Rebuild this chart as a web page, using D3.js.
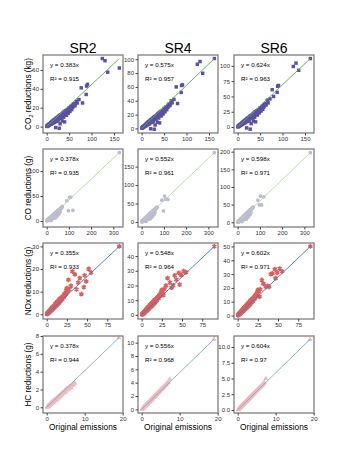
<!DOCTYPE html>
<html>
<head>
<meta charset="utf-8">
<script src="https://cdn.jsdelivr.net/npm/d3@7"></script>
<style>
  body { margin: 0; background: #fff; }
  text { font-family: "Liberation Sans", Arial, sans-serif; }
</style>
</head>
<body>
<div id="chart"></div>
<script>
// column / row labels
const colTitles = ["SR2", "SR4", "SR6"];
const rowNames = ["CO2", "CO", "NOx", "HC"];
const xLabel = "Original emissions";

// fitted slopes and R² printed in each panel [row][col]
const slopes = [["0.383", "0.575", "0.624"], ["0.378", "0.552", "0.598"], ["0.355", "0.548", "0.602"], ["0.378", "0.556", "0.604"]];
const r2s = [["0.915", "0.957", "0.963"], ["0.935", "0.961", "0.971"], ["0.933", "0.964", "0.971"], ["0.944", "0.968", "0.97"]];

// axis limits and ticks
const xLimits = [[-8.1, 170.1], [-16.4, 343.4], [-4.5, 94.5], [-0.97, 20.08]];
const xTicks = [[0, 50, 100, 150], [0, 100, 200, 300], [0, 25, 50, 75], [0, 10, 20]];
const yLimits = [
  [[-6.75, 75.75], [-6.6, 106.1], [-9.8, 117.8]],
  [[-12.1, 144.1], [-13.7, 197.7], [-13.4, 207.5]],
  [[-2.1, 31.5], [-2.8, 48.9], [-2.5, 52.5]],
  [[-0.64, 8.0], [-0.55, 11.0], [-0.48, 11.75]]
];
const yTicks = [
  [[0, 20, 40, 60], [0, 20, 40, 60, 80, 100], [0, 25, 50, 75, 100]],
  [[0, 50, 100], [0, 50, 100, 150], [0, 50, 100, 150, 200]],
  [[0, 10, 20, 30], [0, 10, 20, 30, 40], [0, 10, 20, 30, 40, 50]],
  [[0, 2, 4, 6, 8], [0, 2, 4, 6, 8, 10], [0, 2.5, 5, 7.5, 10]]
];

// CO2 (kg): original emissions, and reductions for SR2 / SR4 / SR6
const co2Orig = [0.5,1,2,3,4,5,6,7,8,9, 10,11,12,13,14,15,16,17,18,19, 20,21,22,23,24,25,26,27,28,29,
  30,31,32,34,35,36,38,39,40,42, 44,46,48,50,52,54,56,58,60,63, 66,72,77,80,88,89,91,124,130,136, 162,
  3.5,6.5,9.5,12.5,15.5,18.5,21.5,24.5,27.5,30.5, 33,37,41,43,45,47,49,51,53,57, 59,61,64,68];
const co2SR2 = [0.2,0.8,0.3,1.8,1,2.5,1.6,3.2,2.2,4, 2.6,5,3.2,5.8,3.8,6.6,4.2,7.2,4.6,8, -1,8.8,5.6,9.5,6.2,10.2,7,11,-1.8,11.8,
  3,12.5,8.5,13.5,6,14.5,10,16,5,17, 12,18,14,20,16,21.5,18,22.5,24,22, 26.8,28.6,41,25,34,42.9,44.7,72,69.7,57.6, 62,
  1.2,2.4,3.6,4.6,5.8,6.8,7.6,8.8,9.8,10.8, 11.5,12.8,14,15,16,16.5,18,18.5,19.5,20.5, 21,22.5,24,25];
const co2SR4 = [0.3,1.2,0.6,2.6,1.6,3.6,2.5,4.6,3.4,5.8, 4,7.2,5,8.4,5.8,9.6,6.5,10.5,7,11.6, -0.5,12.8,8.6,13.8,9.5,14.8,10.6,16,-1.2,17,
  5,18,13,19.6,9,21,15,23,8,24.5, 18,26,21,29,24,31,27,33,35,33, 40,42,60,36,52,62,63,92.7,96.6,79.7, 101,
  1.8,3.6,5.3,6.8,8.6,10,11.3,13,14.5,16, 17,19,20.7,22.2,23.7,24.5,26.6,27.4,29,30.4, 31,33.3,35.5,37];
const co2SR6 = [0.3,1.3,0.6,2.8,1.7,3.9,2.7,5,3.6,6.3, 4.3,7.8,5.3,9,6.2,10.3,7,11.3,7.5,12.5, -1.5,13.8,9.2,14.8,10,16,11.3,17.3,-3.5,18.4,
  5.5,19.5,14,21.2,9.8,22.8,16,25,8.5,26.5, 19.5,28.5,23,31.5,26,33.5,29,35.5,38,36, 44,46,61,50,56.7,66.7,68,99,104.5,92.8, 112,
  1.9,3.8,5.7,7.3,9.2,10.7,12,13.9,15.5,17, 18.2,20.2,22,23.7,25.3,26,28.4,29.2,30.8,32.4, 33.2,35.5,38,39.5];

// CO (g)
const coOrig = [1,2,3,4,5,6,7,8,9,10, 11,12,13,14,15,16,18,19,20,22, 23,25,26,28,30,32,33,35,37,38,
  40,42,44,46,48,50,52,54,56,58, 60,63,66,70,91,98,103,108,118,327,
  3.5,6.5,9.5,12.5,15.5,17,21,24,27,29, 31,34,36,39,41,43,45,47,49,51, 53,55,57,59,62,65,68];
const coSR2 = [0.3,1,0.5,1.8,1.2,2.6,1.6,3.4,2.2,4.3, 2.8,5,3.4,5.8,4,6.6,4.6,7.8,1,9, 6,10.2,7,11.5,5,13,9,14.5,8,15.5,
  6,17,12,18.5,10,20,15,21.5,14,22.5, 18,24.5,26,29,40.6,20.6,47,47,21,137,
  1.4,2.6,3.8,5,6.2,6.8,8.4,9.6,10.8,11.6, 12.4,13.6,14.4,15.6,16.4,17.2,18,18.8,19.6,20.4, 21.2,22,22.8,23.6,24.8,26,27.2];
const coSR4 = [0.4,1.5,0.7,2.6,1.7,3.8,2.3,5,3.2,6.3, 4,7.3,5,8.4,5.8,9.6,6.7,11.3,1.5,13, 8.7,14.8,10,16.7,7,19,13,21,11.5,22.5,
  8.5,24.5,17,27,14,29,22,31,20,33, 26,35,38,40,59,30,70,62,61,188,
  2,3.8,5.5,7.3,9,9.9,12.2,13.9,15.7,16.8, 18,19.7,20.9,22.6,23.8,24.9,26.1,27.3,28.4,29.6, 30.7,31.9,33.1,34.2,36,37.7,39.4];
const coSR6 = [0.4,1.6,0.8,2.8,1.8,4,2.5,5.4,3.5,6.8, 4.3,7.9,5.4,9,6.3,10.4,7.2,12.2,1.6,14, 9.4,16,10.8,18,7.6,20.5,14,22.5,12.4,24.3,
  9.2,26.5,18.4,29,15,31.3,23.8,33.5,21.6,35.6, 28,38,41,43,63,49,74,49,71.6,197,
  2.2,4,5.9,7.8,9.6,10.5,13,14.9,16.7,18, 19.2,21.1,22.3,24.2,25.4,26.7,27.9,29.1,30.4,31.6, 32.9,34.1,35.3,36.6,38.4,40.3,42.2];

// NOx (g)
const noxOrig = [0.5,1,1.5,2,2.5,3,3.5,4,4.5,5, 5.5,6,6.5,7,7.5,8,8.5,9,10,10.5, 11,12,12.5,13,14,15,15.5,16,17,18,
  19,20,21,22,23,24,25, 27,30,32,35,37,39,41,43,46,47,49,52,55,90,
  1.2,2.2,3.2,4.2,5.2,6.2,7.2,8.2,9.5,11.5, 13.5,14.5,16.5,17.5,18.5,19.5,20.5,21.5,22.5,23.5, 24.5,26,28];
const noxSR2 = [0.1,0.5,0.3,0.9,0.6,1.3,0.9,1.7,1.2,2.2, 1.6,2.5,1.9,3,2.3,3.4,2.6,3.8,3.2,4.6, 3.6,5,3.9,5.6,4.6,6.2,5,6.8,5.8,7.2,
  6.5,8,7.5,9,8.6,10.5,11.5, 15.2,12.5,18.9,17.6,11,14,16,8.9,12,17.2,14.5,20,18.4,30,
  0.4,0.8,1.1,1.5,1.9,2.2,2.6,2.9,3.5,4.2, 4.9,5.3,6,6.4,6.8,7.2,7.6,8,8.4,8.8, 9.4,10.2,11];
const noxSR4 = [0.2,0.8,0.5,1.4,0.9,2,1.4,2.6,1.9,3.3, 2.4,3.8,2.9,4.5,3.5,5.2,4,5.8,4.8,6.9, 5.4,7.5,5.9,8.4,6.9,9.3,7.5,10.2,8.7,10.8,
  9.8,12,11.2,13.5,12.9,15.5,17, 13.5,19.8,25,22,18.5,20,26.8,24,28.6,20.6,27,29.7,29,46.6,
  0.7,1.3,1.9,2.5,3.1,3.7,4.3,4.9,5.7,6.9, 8.1,8.7,9.9,10.5,11.1,11.7,12.3,12.9,13.5,14.1, 14.7,16,17.5];
const noxSR6 = [0.2,0.8,0.5,1.5,1,2.1,1.5,2.8,2,3.5, 2.6,4,3.1,4.8,3.7,5.5,4.2,6.2,5.1,7.4, 5.8,8,6.3,9,7.4,10,8,10.9,9.3,11.6,
  10.5,12.8,12,14.5,13.8,16.5,18.5, 13.6,25.7,23,20.8,21.5,20.8,30,30.5,33.6,27,31,34,32,50,
  0.8,1.4,2.1,2.7,3.4,4,4.7,5.3,6.2,7.5, 8.8,9.4,10.7,11.4,12,12.7,13.3,14,14.6,15.3, 16,17.5,19];

// HC (g)
const hcOrig = [0.1,0.2,0.3,0.5,0.6,0.8,1,1.1,1.3,1.5, 1.6,1.8,2,2.2,2.4,2.6,2.8,3,3.2,3.4, 3.6,3.8,4,4.2,4.5,4.8,5,5.3,5.6,6,
  6.4,6.8,7.4,19,
  0.4,0.7,0.9,1.2,1.4,1.7,1.9,2.1,2.3,2.5, 2.7,2.9,3.1,3.3,3.5,3.7,3.9,4.1,4.4,4.7, 5.2,5.5,5.8,6.2,6.6,7];
const hcSR2 = [0,0.1,0.05,0.2,0.15,0.35,0.3,0.5,0.4,0.65, 0.5,0.75,0.6,0.9,0.8,1.05,0.9,1.2,1.05,1.35, 1.2,1.5,1.4,1.65,1.6,1.9,1.7,2.1,2,2.3,
  2.2,2.5,2.7,7.8,
  0.1,0.3,0.3,0.45,0.5,0.6,0.7,0.8,0.85,0.95, 1,1.1,1.15,1.25,1.3,1.4,1.45,1.55,1.65,1.75, 1.95,2.05,2.15,2.3,2.45,2.6];
const hcSR4 = [0,0.1,0.15,0.3,0.3,0.45,0.5,0.7,0.7,0.9, 0.85,1.05,1.1,1.3,1.3,1.55,1.55,1.75,1.8,2, 2,2.25,2.3,2.5,2.6,2.85,2.9,3.1,3.2,3.5,
  3.7,4,4.5,10.5,
  0.2,0.4,0.5,0.7,0.8,1,1.1,1.2,1.35,1.45, 1.55,1.7,1.8,1.9,2.05,2.15,2.25,2.4,2.55,2.7, 3,3.2,3.35,3.6,3.85,4.1];
const hcSR6 = [0,0.1,0.15,0.3,0.3,0.5,0.55,0.75,0.75,0.95, 0.9,1.1,1.15,1.35,1.4,1.6,1.65,1.85,1.9,2.1, 2.15,2.35,2.45,2.6,2.75,3,3.05,3.3,3.4,3.7,
  3.9,4.2,5,11.2,
  0.25,0.45,0.55,0.75,0.85,1.05,1.2,1.3,1.45,1.55, 1.7,1.8,1.95,2.05,2.2,2.3,2.45,2.55,2.75,2.9, 3.25,3.4,3.6,3.85,4.1,4.35];

const origByRow = [co2Orig, coOrig, noxOrig, hcOrig];
const redByRow = [[co2SR2, co2SR4, co2SR6], [coSR2, coSR4, coSR6], [noxSR2, noxSR4, noxSR6], [hcSR2, hcSR4, hcSR6]];

// look
const pointColor = ["#5a51a2", "#bcbad8", "#d9605c", "#f3b9bb"];
const lineColor = ["#52b152", "#b6de8c", "#3c7cc6", "#6cb0e2"];
const symbols = [d3.symbolSquare, d3.symbolCircle, d3.symbolAsterisk, d3.symbolTriangle];
const symSize = [12, 11, 16, 12];

const colLeft = [43, 138, 234];
const panelW = 80;
const rowTop = [55, 149, 243, 336];
const panelH = [78, 78, 76, 77];

const svg = d3.select("#chart").append("svg")
  .attr("width", 349)
  .attr("height", 465);

colTitles.forEach((t, c) => {
  svg.append("text")
    .attr("x", colLeft[c] + panelW / 2)
    .attr("y", 53)
    .attr("text-anchor", "middle")
    .style("font-size", "14px")
    .text(t);
});

rowNames.forEach((name, r) => {
  // y title
  const yt = svg.append("text")
    .attr("transform", "translate(31," + (rowTop[r] + panelH[r] / 2) + ") rotate(-90)")
    .attr("text-anchor", "middle")
    .style("font-size", "8.2px");
  if (name === "CO2") {
    yt.append("tspan").text("CO");
    yt.append("tspan").attr("dy", 2).style("font-size", "5.5px").text("2");
    yt.append("tspan").attr("dy", -2).text(" reductions (kg)");
  } else {
    yt.text(name + " reductions (g)");
  }

  colTitles.forEach((t, c) => {
    const g = svg.append("g").attr("transform", "translate(" + colLeft[c] + "," + rowTop[r] + ")");
    const x = d3.scaleLinear().domain(xLimits[r]).range([0, panelW]);
    const y = d3.scaleLinear().domain(yLimits[r][c]).range([panelH[r], 0]);

    const xs = origByRow[r];
    const ys = redByRow[r][c];
    const pts = xs.map((v, i) => ({ x: v, y: ys[i] }));

    g.append("rect")
      .attr("width", panelW)
      .attr("height", panelH[r])
      .attr("fill", "#fff");

    const sym = d3.symbol().type(symbols[r]).size(symSize[r]);
    g.selectAll(".pt")
      .data(pts)
      .enter().append("path")
      .attr("class", "pt")
      .attr("transform", d => "translate(" + x(d.x) + "," + y(d.y) + ")")
      .attr("d", sym)
      .attr("fill", r === 2 ? "none" : pointColor[r])
      .attr("stroke", r === 2 ? pointColor[r] : "none")
      .attr("stroke-width", 1.6);

    // fit line drawn from origin to the data's upper corner
    const xm = d3.max(xs), ym = d3.max(ys);
    g.append("line")
      .attr("x1", x(0)).attr("y1", y(0))
      .attr("x2", x(xm)).attr("y2", y(ym))
      .attr("stroke", lineColor[r])
      .attr("stroke-width", 0.9);

    g.append("text")
      .attr("x", 7).attr("y", 12)
      .style("font-size", "6.2px")
      .text("y = " + slopes[r][c] + "x");
    g.append("text")
      .attr("x", 7).attr("y", 26)
      .style("font-size", "6.2px")
      .text("R² = " + r2s[r][c]);

    g.append("rect")
      .attr("width", panelW)
      .attr("height", panelH[r])
      .attr("fill", "none")
      .attr("stroke", "#7f7f7f")
      .attr("stroke-width", 1.3);

    const xAxis = g.append("g")
      .attr("transform", "translate(0," + panelH[r] + ")")
      .call(d3.axisBottom(x).tickValues(xTicks[r]).tickSize(2.5).tickPadding(1.5));
    const yAxis = g.append("g")
      .call(d3.axisLeft(y).tickValues(yTicks[r][c]).tickSize(2.5).tickPadding(1.5)
        .tickFormat(r === 3 && c === 2 ? d3.format(".1f") : d3.format("")));
    [xAxis, yAxis].forEach(a => {
      a.select(".domain").remove();
      a.selectAll("line").attr("stroke", "#444");
      a.selectAll("text").style("font-size", "6px").attr("fill", "#333")
        .style("font-family", "'Liberation Sans', Arial, sans-serif");
    });

    if (r === 3) {
      svg.append("text")
        .attr("x", colLeft[c] + panelW / 2)
        .attr("y", 430)
        .attr("text-anchor", "middle")
        .style("font-size", "8.3px")
        .text(xLabel);
    }
  });
});
</script>
</body>
</html>
